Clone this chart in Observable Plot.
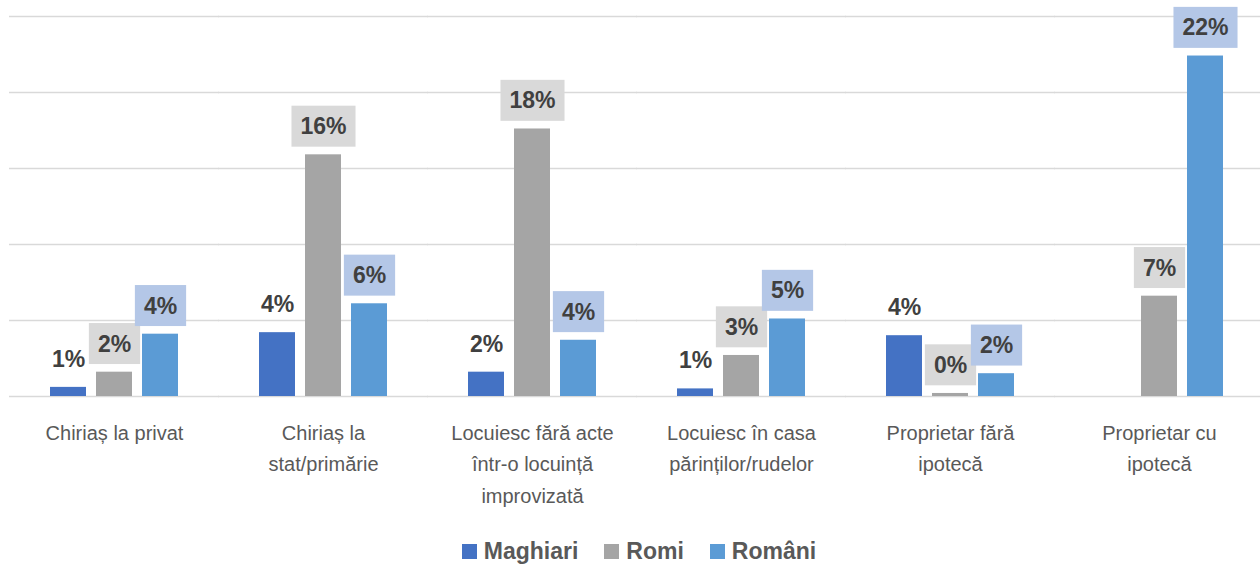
<!DOCTYPE html>
<html>
<head>
<meta charset="utf-8">
<script src="https://cdn.jsdelivr.net/npm/d3@7"></script>
<script src="https://cdn.jsdelivr.net/npm/@observablehq/plot@0.6"></script>
<style>
  html, body { margin: 0; padding: 0; background: #fff; overflow: hidden; width: 1260px; }
  #legend { display: flex; justify-content: center; gap: 26px; margin-top: 8px; line-height: 30px;
            width: 1242px; padding-left: 18px;
            font: bold 23px "Liberation Sans", Arial, sans-serif; color: #595959; }
  #legend .item { display: flex; align-items: center; gap: 7px; }
  #legend .sw { display: inline-block; width: 15px; height: 15px; }
</style>
</head>
<body>
<div id="chart"></div>
<div id="legend"></div>
<script>
const categories = ["Chiriaș la privat", "Chiriaș la stat/primărie", "Locuiesc fără acte într-o locuință improvizată", "Locuiesc în casa părinților/rudelor", "Proprietar fără ipotecă", "Proprietar cu ipotecă"];
const tickLabels = ["Chiriaș la privat", "Chiriaș la\nstat/primărie", "Locuiesc fără acte\nîntr-o locuință\nimprovizată", "Locuiesc în casa\npărinților/rudelor", "Proprietar fără\nipotecă", "Proprietar cu\nipotecă"];
const series = ["Maghiari", "Romi", "Români"];
const maghiari = [0.6, 4.2, 1.6, 0.5, 4.0, null];
const romi = [1.6, 15.9, 17.6, 2.7, 0.2, 6.6];
const romani = [4.1, 6.1, 3.7, 5.1, 1.5, 22.4];
const yTicks = [0, 5, 10, 15, 20, 25];
const colors = ["#4472C4", "#A5A5A5", "#5B9BD5"];
const boxColors = [null, "#D9D9D9", "#B4C7E7"];

const valuesBySeries = [maghiari, romi, romani];
const data = [];
categories.forEach((c, i) => {
  series.forEach((s, j) => {
    data.push({category: c, series: s, value: valuesBySeries[j][i]});
  });
});
const withValue = data.filter(d => d.value != null);

const fmt = v => Math.round(v) + "%";

const labelMark = (j) => Plot.text(withValue.filter(d => d.series === series[j]), {
  fx: "category", x: "series", y: "value", text: d => fmt(d.value), dy: -28,
  fontSize: 23, fontWeight: "bold", fill: "#404040", ariaDescription: "label-box-" + j
});

const chart = Plot.plot({
  width: 1260,
  height: 530,
  marginTop: 16,
  marginBottom: 134,
  marginLeft: 9,
  marginRight: -3,
  style: {fontFamily: "'Liberation Sans', Arial, sans-serif", fontSize: "20px", color: "#595959", background: "#fff"},
  fx: {domain: categories, paddingInner: 0.38, paddingOuter: 0.19, axis: null, label: null},
  x: {domain: series, paddingInner: 0.215, paddingOuter: 0, axis: null, label: null},
  y: {domain: [0, 25], axis: null, label: null},
  color: {domain: series, range: colors},
  marks: [
    Plot.ruleY(yTicks, {y: d => d, stroke: "#D9D9D9", strokeWidth: 1.4, insetLeft: -40, insetRight: -40}),
    Plot.barY(withValue, {fx: "category", x: "series", y: "value", fill: "series"}),
    labelMark(0),
    labelMark(1),
    labelMark(2),
    Plot.text(categories, {
      fx: d => d, text: d => tickLabels[categories.indexOf(d)], frameAnchor: "bottom",
      lineAnchor: "top", dy: 21, lineHeight: 1.575, fontSize: 20, fill: "#595959"
    })
  ]
});

document.getElementById("chart").append(chart);

// label background boxes
const NS = "http://www.w3.org/2000/svg";
[1, 2].forEach(j => {
  chart.querySelectorAll(`[aria-description="label-box-${j}"] text`).forEach(t => {
    const b = t.getBBox();
    const r = document.createElementNS(NS, "rect");
    const cy = b.y + b.height / 2;
    r.setAttribute("x", b.x - 9);
    r.setAttribute("width", b.width + 18);
    r.setAttribute("y", cy - 20.5);
    r.setAttribute("height", 41);
    r.setAttribute("fill", boxColors[j]);
    r.setAttribute("stroke", "none");
    const tr = t.getAttribute("transform");
    if (tr) r.setAttribute("transform", tr);
    t.parentNode.insertBefore(r, t);
  });
});

// legend
const legend = document.getElementById("legend");
series.forEach((s, j) => {
  const item = document.createElement("span");
  item.className = "item";
  const sw = document.createElement("span");
  sw.className = "sw";
  sw.style.background = colors[j];
  const lab = document.createElement("span");
  lab.textContent = s;
  item.append(sw, lab);
  legend.append(item);
});
</script>
</body>
</html>
